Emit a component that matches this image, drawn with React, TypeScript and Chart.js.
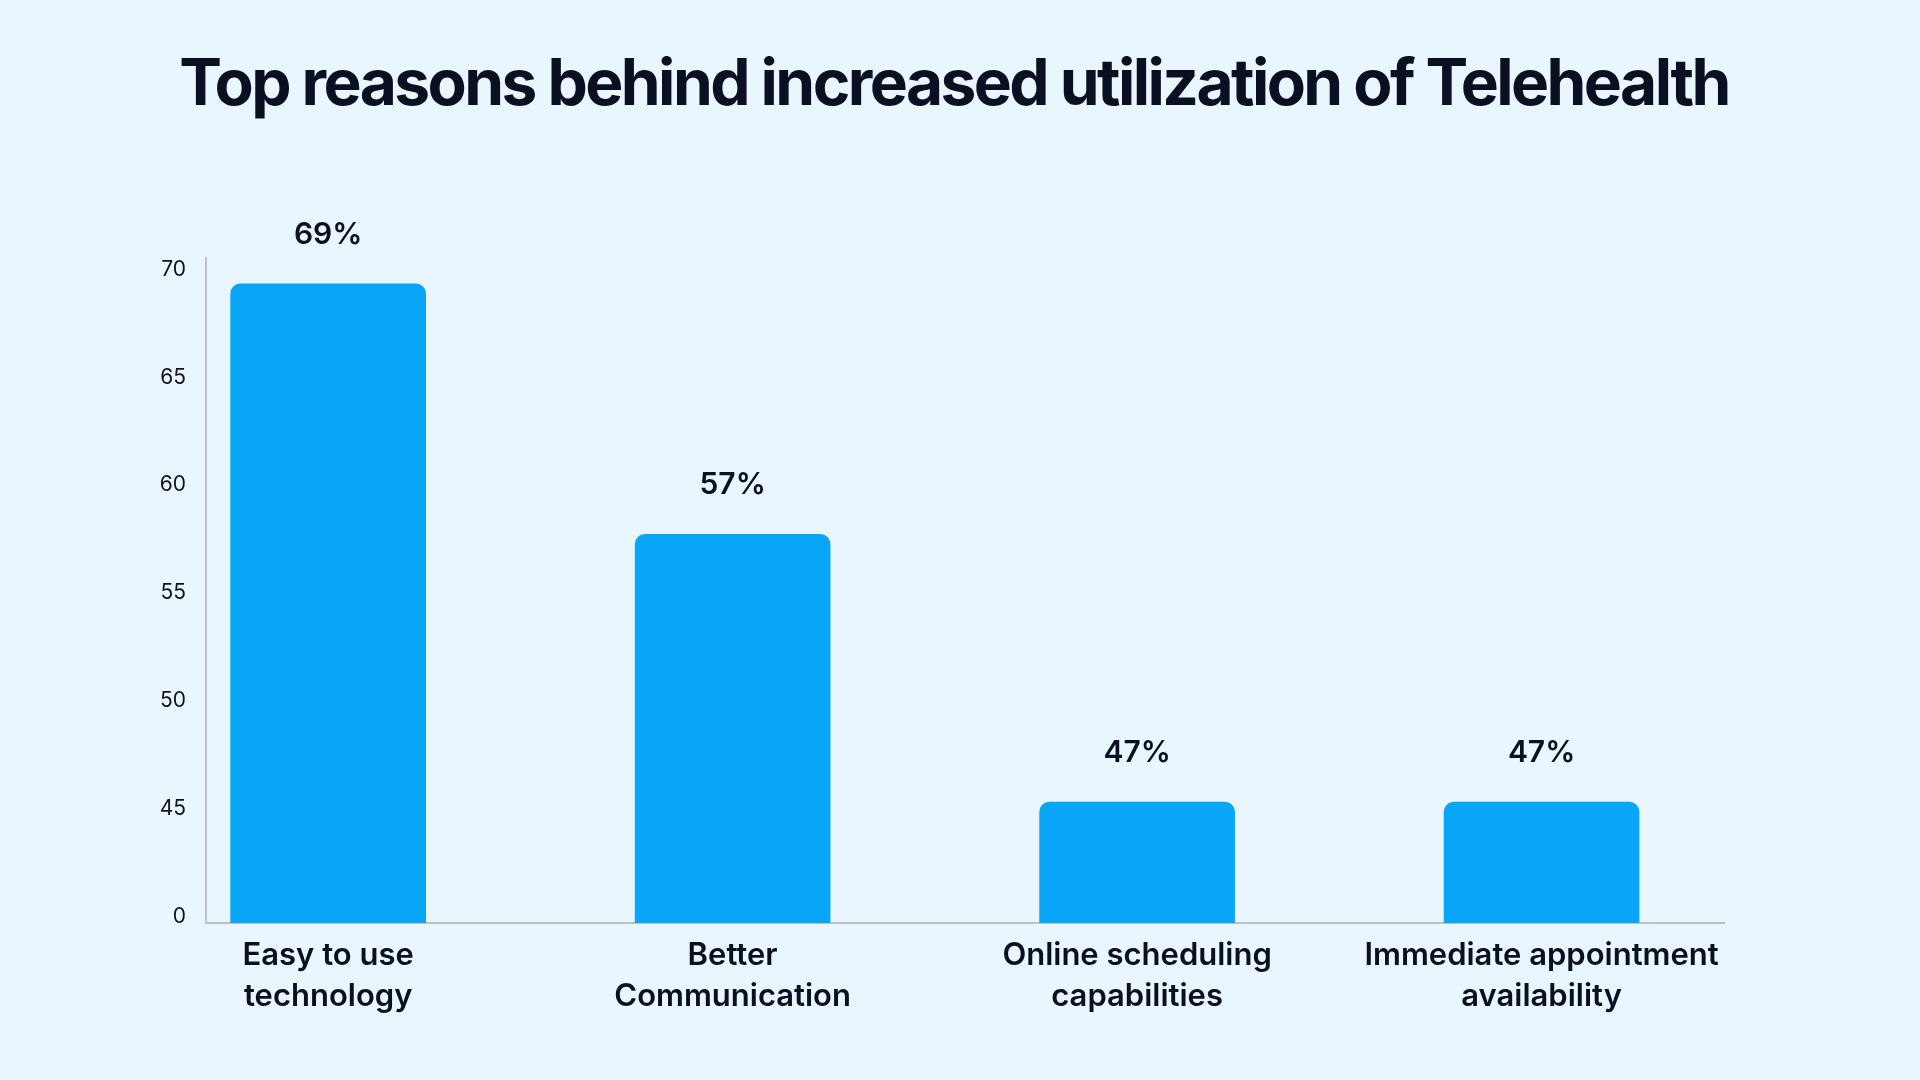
import { useEffect, useRef } from 'react';
import Chart from 'chart.js/auto';

const TITLE = 'Top reasons behind increased utilization of Telehealth';

const categories = [
  ['Easy to use', 'technology'],
  ['Better', 'Communication'],
  ['Online scheduling', 'capabilities'],
  ['Immediate appointment', 'availability']
];
// percentages printed above the bars
const shares = [69, 57, 47, 47];
// bar tops as read against the (broken) y axis of the picture
const barHeights = [69.6, 58, 45.6, 45.6];
const yTicks = [0, 45, 50, 55, 60, 65, 70];

// broken axis: 0..45 squeezed into one step, then one step per 5 points
const toAxis = (v: number) => (v <= 45 ? v / 45 : 1 + (v - 45) / 5);

const FONT = 'Inter, "Noto Sans", sans-serif';
const INK = '#0b0f22';

export default function App() {
  const canvasRef = useRef<HTMLCanvasElement>(null);
  const chartRef = useRef<Chart | null>(null);

  useEffect(() => {
    if (!canvasRef.current) return;
    const ctx = canvasRef.current.getContext('2d');
    if (!ctx) return;
    if (chartRef.current) chartRef.current.destroy();

    const titlePlugin = {
      id: 'bigTitle',
      beforeDraw(chart: any) {
        const c = chart.ctx;
        c.save();
        c.font = `700 64px ${FONT}`;
        c.letterSpacing = '0px';
        const w = c.measureText(TITLE).width;
        c.letterSpacing = `${(1552 - w) / (TITLE.length - 1)}px`;
        c.fillStyle = INK;
        c.textAlign = 'center';
        c.textBaseline = 'alphabetic';
        c.fillText(TITLE, 954, 105);
        c.restore();
      }
    };

    const valueLabels = {
      id: 'valueLabels',
      afterDatasetsDraw(chart: any) {
        const c = chart.ctx;
        const meta = chart.getDatasetMeta(0);
        c.save();
        c.font = `600 30px ${FONT}`;
        c.fillStyle = INK;
        c.textAlign = 'center';
        c.textBaseline = 'alphabetic';
        meta.data.forEach((bar: any, i: number) => {
          c.fillText(`${shares[i]}%`, bar.x, bar.y - 40);
        });
        c.restore();
      }
    };

    chartRef.current = new Chart(ctx, {
      type: 'bar',
      data: {
        datasets: [
          {
            data: barHeights.map((v, i) => ({ x: i, y: toAxis(v) })),
            backgroundColor: '#09a5f7',
            borderRadius: { topLeft: 10, topRight: 10, bottomLeft: 0, bottomRight: 0 },
            borderSkipped: 'start',
            barThickness: 195
          }
        ]
      },
      options: {
        responsive: false,
        animation: false,
        layout: { padding: { top: 258, right: 196, left: 0, bottom: 0 } },
        plugins: {
          legend: { display: false },
          tooltip: { enabled: false }
        },
        scales: {
          x: {
            type: 'linear',
            min: -0.302,
            max: 3.451,
            offset: false,
            grid: { display: false, drawTicks: false, offset: false },
            border: { display: true, color: '#bdbfc2', width: 2 },
            afterBuildTicks: (s: any) => {
              s.ticks = categories.map((_, i) => ({ value: i }));
            },
            afterFit: (s: any) => {
              s.height = 157;
            },
            ticks: {
              autoSkip: false,
              maxRotation: 0,
              padding: 12,
              color: INK,
              font: { family: FONT, size: 31, weight: 600, lineHeight: 1.33 },
              callback: (v: any) => categories[Math.round(Number(v))]
            }
          },
          y: {
            type: 'linear',
            min: 0,
            max: 6.16,
            grid: { display: false, drawTicks: false },
            border: { display: true, color: '#bdbfc2', width: 2 },
            afterBuildTicks: (s: any) => {
              s.ticks = yTicks.map((v) => ({ value: toAxis(v) }));
            },
            afterFit: (s: any) => {
              s.width = 206;
            },
            ticks: {
              padding: 20,
              labelOffset: -6,
              color: '#111318',
              font: { family: FONT, size: 21, weight: 400 },
              callback: (_v: any, i: number) => String(yTicks[i])
            }
          }
        }
      },
      plugins: [titlePlugin, valueLabels]
    } as any);

    return () => {
      if (chartRef.current) {
        chartRef.current.destroy();
        chartRef.current = null;
      }
    };
  }, []);

  return (
    <div
      style={{
        position: 'fixed',
        left: 0,
        top: 0,
        width: 1920,
        height: 1080,
        background: '#eaf6fe'
      }}
    >
      <canvas ref={canvasRef} width={1920} height={1080} style={{ display: 'block' }} />
    </div>
  );
}
